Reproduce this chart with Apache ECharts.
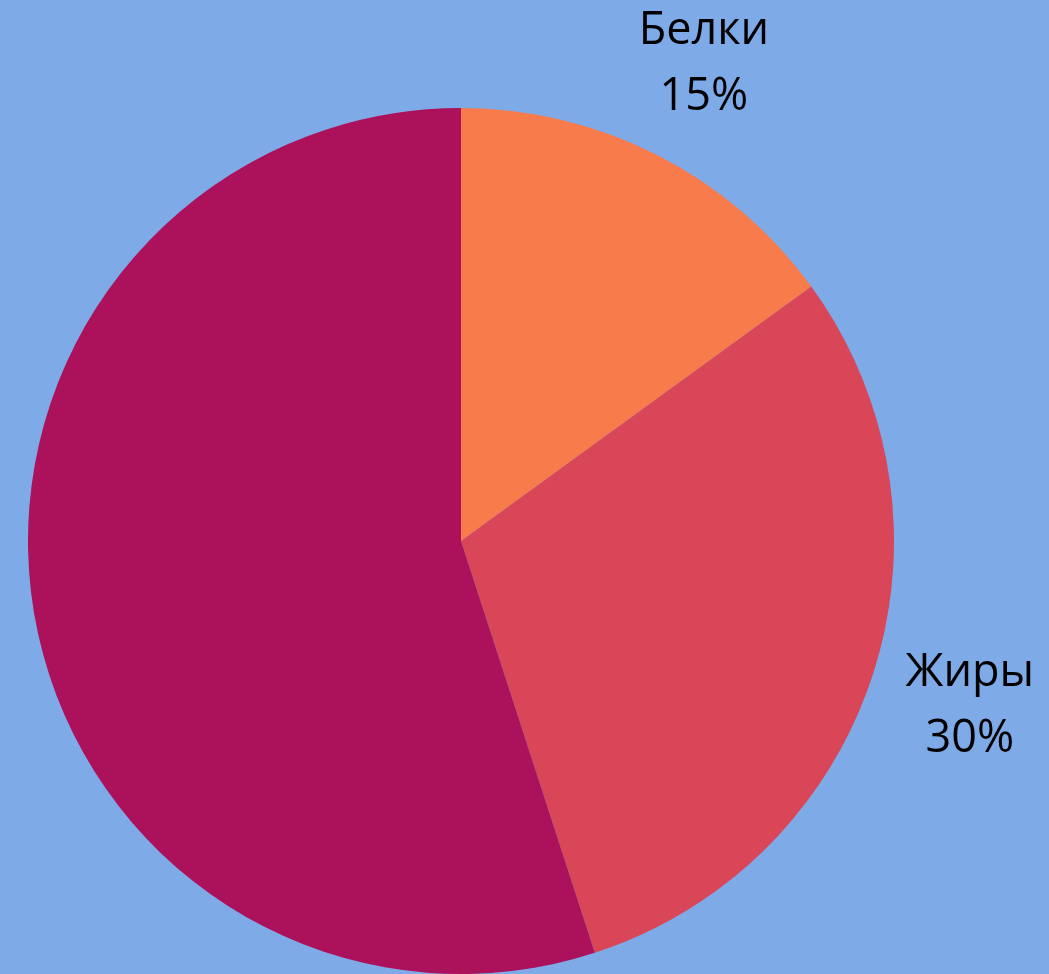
<!DOCTYPE html>
<html><head><meta charset="utf-8">
<style>html,body{margin:0;padding:0;background:#7EAAE8;}#c{width:1049px;height:974px;}</style>
<script src="https://cdn.jsdelivr.net/npm/echarts@6/dist/echarts.min.js"></script>
</head><body><div id="c"></div>
<script>
const categories = ['Белки', 'Жиры', 'Углеводы'];
const values = [15, 30, 55];
const colors = ['#F87C4B', '#D94657', '#AC125C'];
const showLabel = [true, true, false];

const chart = echarts.init(document.getElementById('c'), null, {renderer: 'canvas'});
const mainData = categories.map((n, i) => ({name: n, value: values[i], itemStyle: {color: colors[i]}}));
const labelData = categories.map((n, i) => ({name: n, value: values[i], label: {show: showLabel[i]}}));
chart.setOption({
  backgroundColor: '#7EAAE8',
  animation: false,
  series: [
    {
      type: 'pie', center: [461, 541], radius: [0, 433], startAngle: 90, clockwise: true,
      silent: true, label: {show: false}, labelLine: {show: false},
      itemStyle: {borderWidth: 0}, data: mainData
    },
    {
      type: 'pie', center: [461, 541], radius: [512, 552], startAngle: 90, clockwise: true,
      silent: true, itemStyle: {color: 'rgba(0,0,0,0)', borderWidth: 0},
      labelLine: {show: false},
      label: {
        show: true, position: 'inside', color: '#000',
        fontFamily: 'Open Sans', fontSize: 45, lineHeight: 66,
        formatter: p => p.name + '\n' + p.value + '%'
      },
      data: labelData
    }
  ]
});
</script></body></html>
